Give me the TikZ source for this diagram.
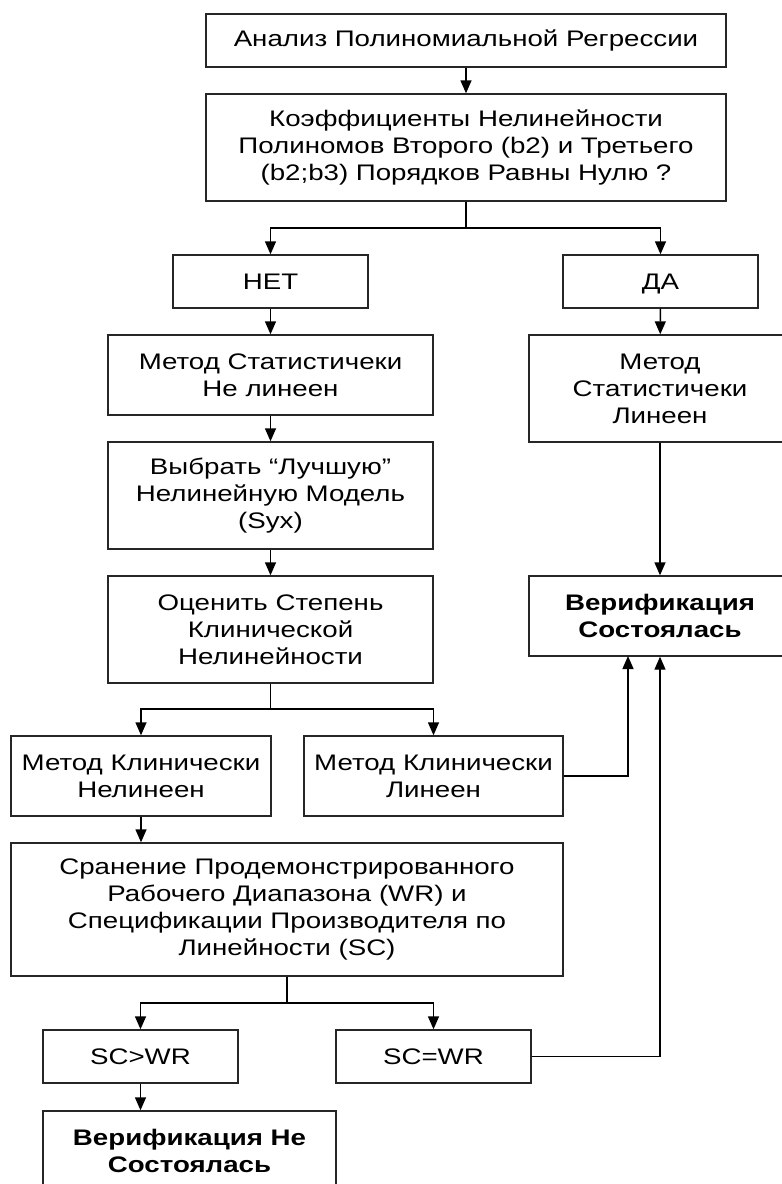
\documentclass[tikz,border=0pt]{standalone}
\usepackage{fontspec}
\setmainfont{Liberation Sans}[FakeStretch=1.23]
\usetikzlibrary{arrows.meta}
\begin{document}
\begin{tikzpicture}[x=1pt,y=-1pt,line width=1.4pt]
    \tikzstyle{block}=[draw=black!85,fill=white,align=center,inner sep=2pt,font=\fontsize{22.5}{27}\selectfont]
    \tikzstyle{link}=[-{Triangle[length=13pt,width=11pt]}]
    \useasboundingbox (0,0) rectangle (782,1184);

    % top of the chart
    \node[block,minimum width=520pt,minimum height=53pt] (anal) at (466,40.5) {Анализ Полиномиальной Регрессии};
    \node[block,minimum width=520pt,minimum height=107pt] (coef) at (466,147.5) {Коэффициенты Нелинейности\\Полиномов Второго (b2) и Третьего\\(b2;b3) Порядков Равны Нулю ?};
    \node[block,minimum width=195pt,minimum height=53pt] (net) at (270.5,281.5) {НЕТ};
    \node[block,minimum width=195pt,minimum height=53pt,text depth=0pt] (da) at (660.5,281.5) {ДА};

    % left branch
    \node[block,minimum width=325pt,minimum height=80pt] (statnl) at (270.5,375) {Метод Статистичеки\\Не линеен};
    \node[block,minimum width=325pt,minimum height=107pt] (best) at (270.5,495.5) {Выбрать “Лучшую”\\Нелинейную Модель\\(Syx)};
    \node[block,minimum width=325pt,minimum height=107pt] (ocen) at (270.5,629.5) {Оценить Степень\\Клинической\\Нелинейности};
    \node[block,minimum width=260pt,minimum height=80pt] (klnl) at (141,776) {Метод Клинически\\Нелинеен};
    \node[block,minimum width=259pt,minimum height=80pt] (kll) at (433.5,776) {Метод Клинически\\Линеен};
    \node[block,minimum width=552pt,minimum height=133pt] (sran) at (287,909.5) {Сранение Продемонстрированного\\Рабочего Диапазона (WR) и\\Спецификации Производителя по\\Линейности (SC)};
    \node[block,minimum width=195pt,minimum height=53pt] (gt) at (140.5,1056.5) {SC>WR};
    \node[block,minimum width=195pt,minimum height=53pt] (eq) at (433.5,1056.5) {SC=WR};
    \node[block,minimum width=293pt,minimum height=80pt,font=\fontsize{22.5}{27}\selectfont\bfseries] (verno) at (189.5,1151) {Верификация Не\\Состоялась};

    % right branch
    \node[block,minimum width=262pt,minimum height=107pt] (statl) at (660,388.5) {Метод\\Статистичеки\\Линеен};
    \node[block,minimum width=262pt,minimum height=80pt,font=\fontsize{22.5}{27}\selectfont\bfseries] (verok) at (660,616) {Верификация\\Состоялась};

    \coordinate (split1) at (466,228);
    \coordinate (split2) at (270.5,709);
    \coordinate (split3) at (287,1003);
    \coordinate (in1) at (628,656);

    \foreach \from/\to in {anal/coef,net/statnl,da/statl,statnl/best,best/ocen,statl/verok}
        \draw[link] (\from) -- (\to);

    \draw (coef.south) -- (split1);
    \draw[link] (split1) -| (net.north);
    \draw[link] (split1) -| (da.north);

    \draw (ocen.south) -- (split2);
    \draw[link] (split2) -| (klnl.north);
    \draw[link] (split2) -| (kll.north);
    \draw[link] (klnl.south) -- (klnl.south |- sran.north);

    \draw (sran.south) -- (split3);
    \draw[link] (split3) -| (gt.north);
    \draw[link] (split3) -| (eq.north);
    \draw[link] (gt.south) -- (gt.south |- verno.north);

    \draw[link] (kll.east) -| (in1);
    \draw[link] (eq.east) -| (verok.south);
\end{tikzpicture}
\end{document}
